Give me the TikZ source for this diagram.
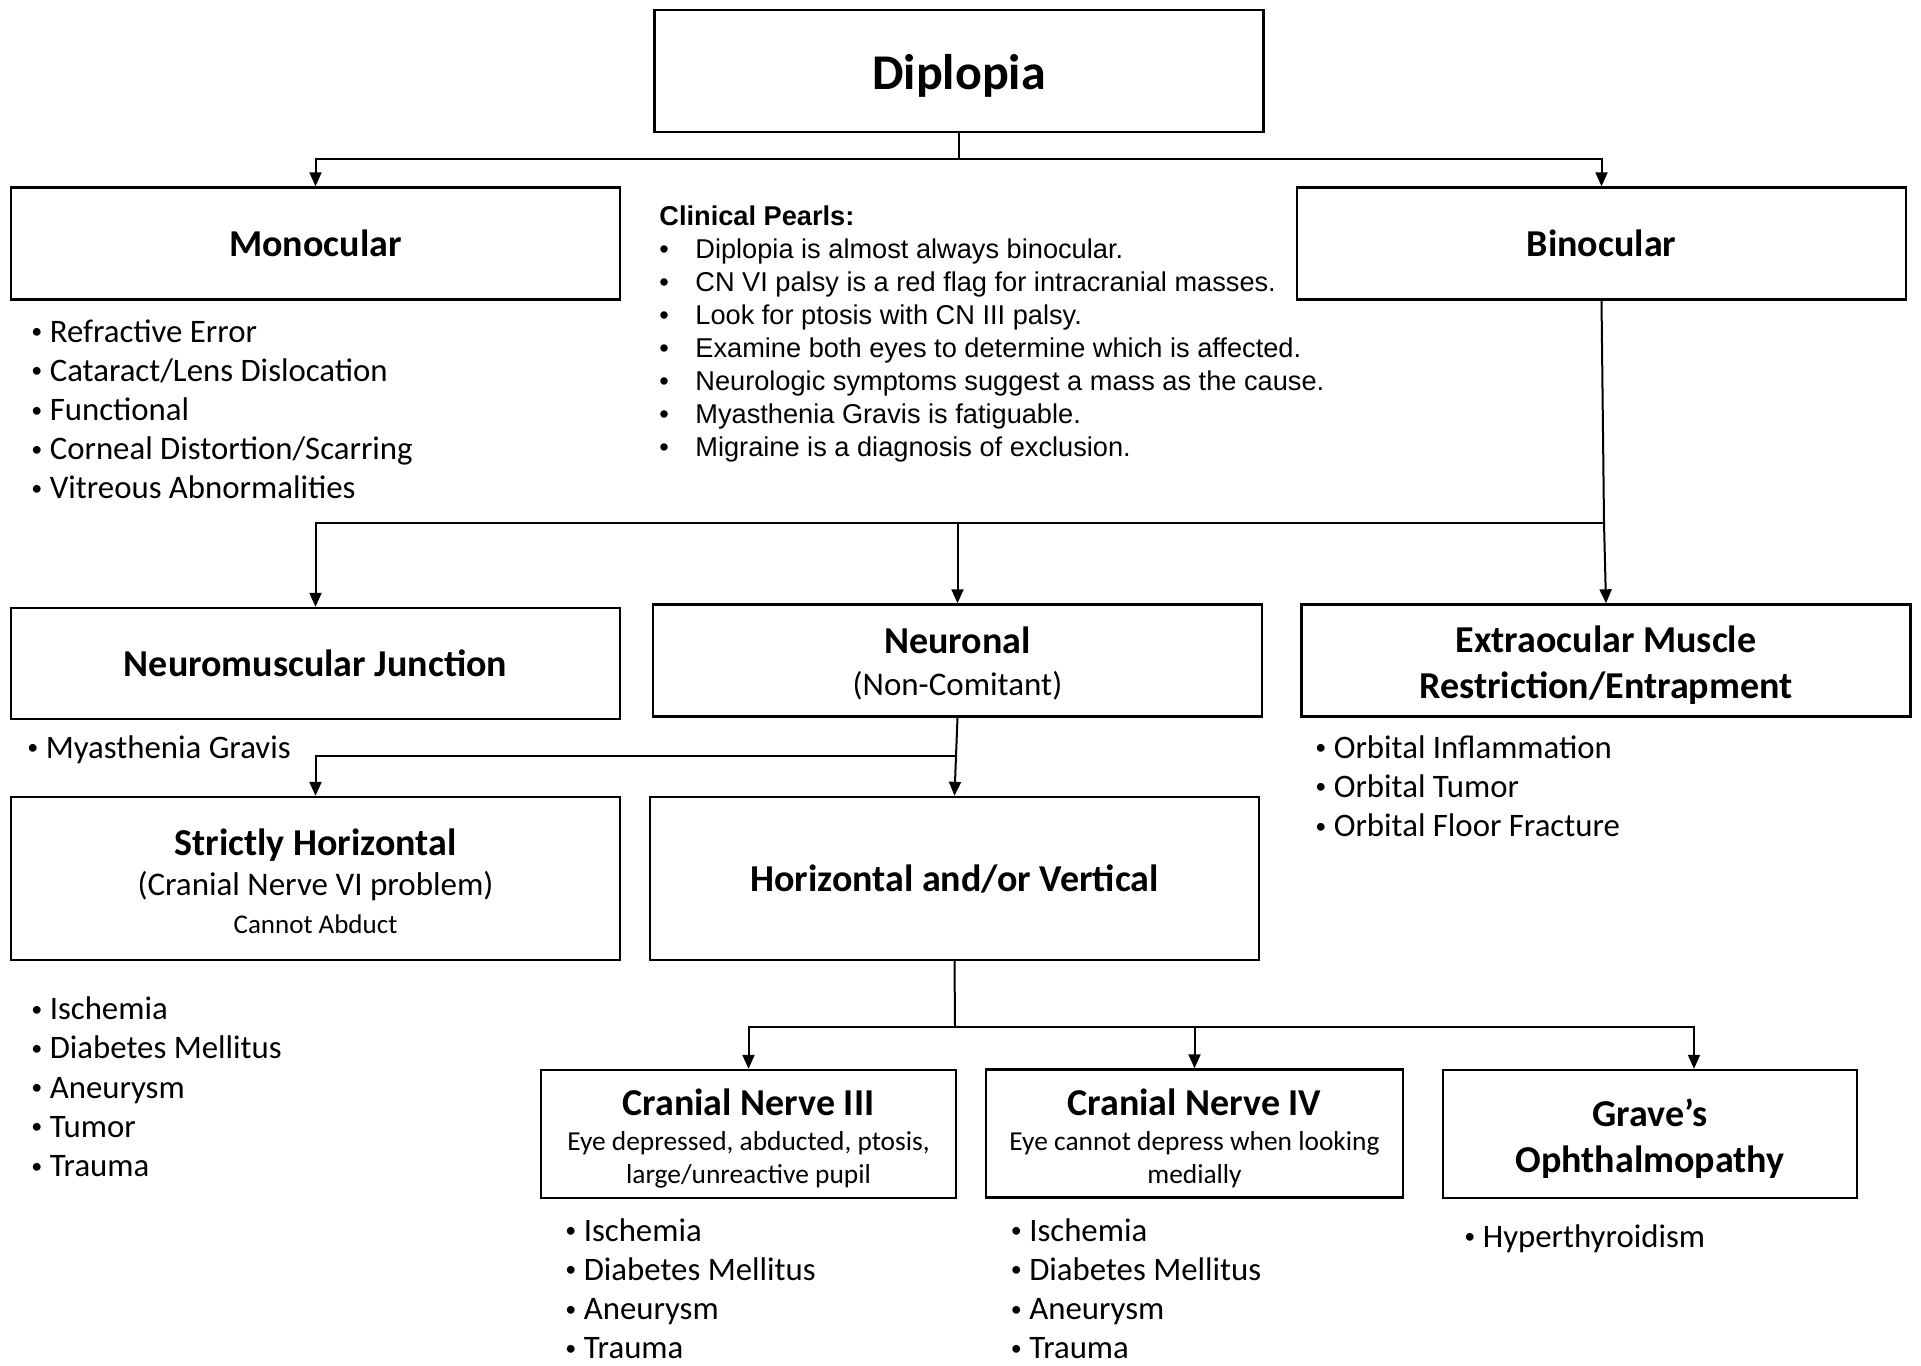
\documentclass[tikz,border=0pt]{standalone}
\usepackage{fontspec}
\setmainfont{Carlito}
\newfontfamily\pearlfont{Liberation Sans}
\usepackage{tikz}
\usetikzlibrary{positioning,arrows.meta}

\newcommand{\boxtitle}{\bfseries\fontsize{19}{19}\selectfont}
\newcommand{\tstrut}[1]{\rule{0pt}{#1}}
\newcommand{\itm}{\makebox[9.2pt][l]{\raisebox{1.7pt}{\fontsize{11}{11}\selectfont•}}}
\newcommand{\ptm}{\makebox[18pt][l]{•}}

\begin{document}
\begin{tikzpicture}[x=0.5pt,y=-0.5pt,
  box/.style={draw,line width=1.2pt,align=center,inner sep=0pt,
    minimum width=304.5pt,minimum height=56pt,font=\boxtitle},
  smallbox/.style={box,minimum width=207.5pt,minimum height=64pt},
  list/.style={anchor=north west,align=left,inner sep=0pt,
    font=\fontsize{16.4}{19.6}\selectfont},
  arr/.style={line width=1pt,-{Triangle[length=7pt,width=6pt]}},
  every node/.style={text=black}]
  \useasboundingbox (0,0) rectangle (1921,1365);

  % top level
  \node[box,minimum height=61pt,font=\bfseries\fontsize{25}{28}\selectfont] (dip) at (959,71) {\tstrut{22.7pt}Diplopia};
  \node[box] (mono) at (315.5,243.5) {Monocular};
  \node[box] (bino) at (1601.5,243.5) {Binocular};

  \node[list] (monolist) at (31,319) {\itm Refractive Error\\ \itm Cataract/Lens Dislocation\\ \itm Functional\\ \itm Corneal Distortion/Scarring\\ \itm Vitreous Abnormalities};

  \node[anchor=north west,align=left,inner sep=0pt,
    font=\pearlfont\fontsize{13.6}{16.5}\selectfont] (pearls) at (659,205)
    {\textbf{Clinical Pearls:}\\
     \ptm Diplopia is almost always binocular.\\
     \ptm CN VI palsy is a red flag for intracranial masses.\\
     \ptm Look for ptosis with CN III palsy.\\
     \ptm Examine both eyes to determine which is affected.\\
     \ptm Neurologic symptoms suggest a mass as the cause.\\
     \ptm Myasthenia Gravis is fatiguable.\\
     \ptm Migraine is a diagnosis of exclusion.};

  % binocular branches
  \node[box,minimum height=55.5pt] (nmj) at (315.5,663.5) {Neuromuscular Junction};
  \node[box,font=\fontsize{16.5}{21.2}\selectfont] (neuro) at (957.5,660.5)
    {{\boxtitle\tstrut{16.5pt}Neuronal}\\(Non-Comitant)};
  \node[box,font=\bfseries\fontsize{19}{23.1}\selectfont] (eom) at (1606,660.5)
    {\tstrut{18pt}Extraocular Muscle\\Restriction/Entrapment};

  \node[list] (nmjlist) at (27,735) {\itm Myasthenia Gravis};
  \node[list] (eomlist) at (1315,735) {\itm Orbital Inflammation\\ \itm Orbital Tumor\\ \itm Orbital Floor Fracture};

  % neuronal branches
  \node[box,minimum height=81.5pt,font=\fontsize{16.5}{19}\selectfont] (horiz) at (315.5,878.5)
    {{\boxtitle\tstrut{16pt}Strictly Horizontal}\\[1.2pt](Cranial Nerve VI problem)\\{\fontsize{13.5}{19}\selectfont Cannot Abduct}};
  \node[box,minimum height=81.5pt] (hv) at (954.5,878.5) {Horizontal and/or Vertical};

  \node[list] (horizlist) at (31,996.5) {\itm Ischemia\\ \itm Diabetes Mellitus\\ \itm Aneurysm\\ \itm Tumor\\ \itm Trauma};

  % horizontal and/or vertical branches
  \node[smallbox,font=\fontsize{13.7}{16.5}\selectfont] (cn3) at (748.5,1134)
    {{\boxtitle\tstrut{18pt}Cranial Nerve III}\\[1pt]Eye depressed, abducted, ptosis,\\large/unreactive pupil};
  \node[smallbox,minimum width=208.5pt,font=\fontsize{13.7}{16.5}\selectfont] (cn4) at (1194.5,1133.5)
    {{\boxtitle\tstrut{18pt}Cranial Nerve IV}\\[1pt]Eye cannot depress when looking\\medially};
  \node[smallbox,minimum width=207pt,font=\bfseries\fontsize{19}{23}\selectfont] (graves) at (1650,1134)
    {\tstrut{18.4pt}Grave’s\\Ophthalmopathy};

  \node[list] (cn3list) at (565,1218) {\itm Ischemia\\ \itm Diabetes Mellitus\\ \itm Aneurysm\\ \itm Trauma};
  \node[list] (cn4list) at (1010.5,1218) {\itm Ischemia\\ \itm Diabetes Mellitus\\ \itm Aneurysm\\ \itm Trauma};
  \node[list] (graveslist) at (1464,1224) {\itm Hyperthyroidism};

  % connectors
  \coordinate (s1) at (959,159);
  \coordinate (s2) at (1604,523);
  \coordinate (s3) at (956,756);
  \coordinate (s4) at (955,1027);
  \coordinate (g) at (1694,1027);

  \draw[arr] (dip.south) -- (s1) -| (mono.north);
  \draw[arr] (s1) -| (bino.north);

  \draw[line width=1pt] (bino.south) -- (s2);
  \draw[arr] (s2) -| (nmj.north);
  \draw[arr] (s2 -| neuro.north) -- (neuro.north);
  \draw[arr] (s2) -- (eom.north);

  \draw[line width=1pt] (neuro.south) -- (s3);
  \draw[arr] (s3) -| (horiz.north);
  \draw[arr] (s3) -- (hv.north);

  \draw[line width=1pt] (hv.south) -- (s4);
  \draw[arr] (s4) -| (cn3.north);
  \draw[arr] (s4) -| (cn4.north);
  \draw[arr] (s4) -- (g) -- (g |- graves.north);
\end{tikzpicture}
\end{document}
